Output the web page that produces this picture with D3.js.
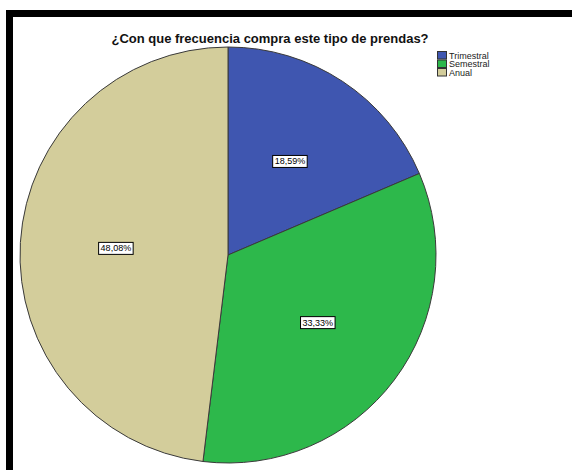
<!DOCTYPE html>
<html><head><meta charset="utf-8">
<script src="https://cdn.jsdelivr.net/npm/d3@7"></script>
<style>body{margin:0;background:#fff}svg{display:block}</style>
</head><body>
<script>
const categories = ["Trimestral", "Semestral", "Anual"];
const values = [18.59, 33.33, 48.08];
const labels = ["18,59%", "33,33%", "48,08%"];
const colors = ["#3f56b0", "#2db84b", "#d3cd9b"];
const title = "¿Con que frecuencia compra este tipo de prendas?";

const W = 572, H = 470;
const svg = d3.select("body").append("svg").attr("width", W).attr("height", H);
svg.append("rect").attr("width", W).attr("height", H).attr("fill", "#fff");

// frame
svg.append("rect").attr("x", 6).attr("y", 10).attr("width", W - 6).attr("height", 7).attr("fill", "#000");
svg.append("rect").attr("x", 6).attr("y", 10).attr("width", 7).attr("height", H - 10).attr("fill", "#000");

svg.append("text").attr("x", 270).attr("y", 43).attr("text-anchor", "middle")
  .attr("font-family", "Liberation Sans, Arial, sans-serif").attr("font-weight", "bold")
  .attr("font-size", 13).attr("fill", "#111").text(title);

const cx = 228, cy = 255, R = 208;
const g = svg.append("g").attr("transform", `translate(${cx},${cy})`);
const pie = d3.pie().sort(null).value(d => d)(values);
const arc = d3.arc().innerRadius(0).outerRadius(R);
g.selectAll("path").data(pie).join("path")
  .attr("d", arc).attr("fill", (d, i) => colors[i])
  .attr("stroke", "#3a3a3a").attr("stroke-width", 1);

const labelArc = d3.arc().innerRadius(R * 0.54).outerRadius(R * 0.54);
pie.forEach((d, i) => {
  const [x, y] = labelArc.centroid(d);
  const lg = g.append("g").attr("transform", `translate(${x},${y})`);
  const t = lg.append("text").attr("text-anchor", "middle").attr("dy", "0.35em")
    .attr("font-family", "Liberation Sans, Arial, sans-serif").attr("font-size", 9)
    .attr("fill", "#000").text(labels[i]);
  const bb = t.node().getBBox();
  lg.insert("rect", "text").attr("x", bb.x - 2).attr("y", bb.y - 1)
    .attr("width", bb.width + 4).attr("height", bb.height + 2)
    .attr("fill", "#fff").attr("stroke", "#000").attr("stroke-width", 1);
});

const leg = svg.append("g").attr("transform", "translate(437,51)");
categories.forEach((c, i) => {
  const row = leg.append("g").attr("transform", `translate(0,${i * 8.5})`);
  row.append("rect").attr("x", 0.5).attr("y", 0.5).attr("width", 9).attr("height", 7.5)
    .attr("fill", colors[i]).attr("stroke", "#333").attr("stroke-width", 1);
  row.append("text").attr("x", 12).attr("y", 7.5)
    .attr("font-family", "Liberation Sans, Arial, sans-serif").attr("font-size", 9)
    .attr("fill", "#222").text(c);
});
</script>
</body></html>
